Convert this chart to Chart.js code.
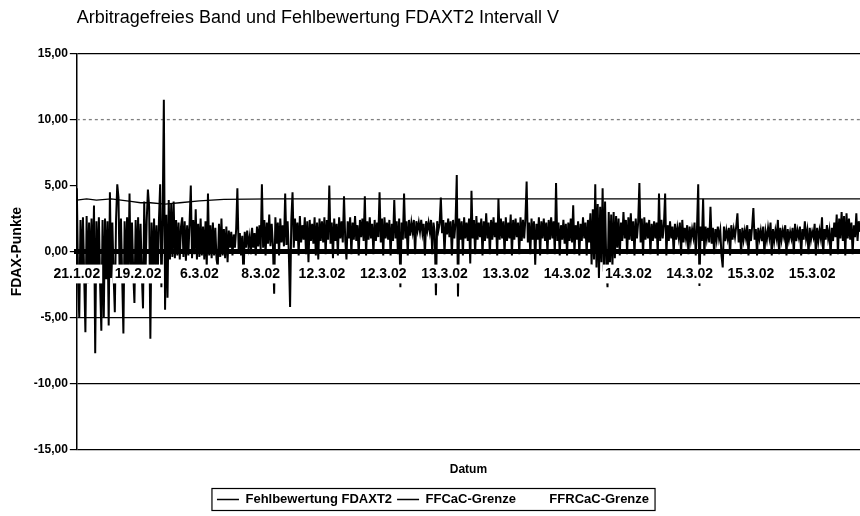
<!DOCTYPE html>
<html>
<head>
<meta charset="utf-8">
<title>Arbitragefreies Band und Fehlbewertung FDAXT2 Intervall V</title>
<script src="https://cdn.jsdelivr.net/npm/chart.js@4"></script>
<style>
  body { margin: 0; background: #fff; }
  #wrap { width: 860px; height: 516px; }
</style>
</head>
<body>
<div id="wrap"><canvas id="chart" width="860" height="516"></canvas></div>
<script>
// Fehlbewertung FDAXT2, one value per position along the time axis
const fehlbewertung = [
  4.8, -2.0, -5.0, 2.4, -2.2, 2.6, -1.8, -6.1, 2.7, -2.4, 2.2, -1.9, 2.5, -2.3, 3.5, -7.7, 2.3, -2.0, 2.6, -2.5,
  -6.0, 2.4, -5.0, 2.5, -2.1, 2.3, -5.6, 4.5, -2.0, 2.2, -1.8, -4.6, 2.4, 5.1, 4.1, -2.2, 2.5, -1.9, -6.2, 2.3,
  -2.0, 2.6, -1.7, 4.4, -2.1, 2.2, -1.5, -3.9, 2.4, -1.8, 2.6, -2.0, 2.1, -1.6, -4.3, 3.8, -1.9, 2.3, 4.7, 3.4,
  -6.6, 2.2, -2.0, 2.5, -1.4, 2.0, -1.8, 2.4, 5.1, -2.7, 2.2, 11.5, -4.4, 2.8, -3.5, 3.9, -0.6, 3.6, -0.4, 3.8,
  -0.5, 2.4, -0.3, 2.2, -0.6, 1.9, 2.6, -0.4, 2.3, -0.7, 2.0, -0.3, 2.2, 5.0, -0.5, 2.4, -0.2, 3.2, -0.6, 2.1,
  -0.4, 2.5, -0.3, 1.9, -0.6, 2.3, -1.2, 4.4, -0.3, 2.0, -0.5, 2.2, -0.3, 1.8, -0.6, -1.2, 2.1, -0.4, 2.5, -0.3,
  1.7, -0.5, 1.9, -0.8, 1.6, 0.3, 1.5, -0.3, 1.3, 0.3, 1.7, 4.8, 0.2, 1.4, -0.3, 1.2, -2.2, 1.5, 0.3, 1.6,
  0.4, 1.1, -0.2, 1.8, 0.3, 1.4, -0.3, 1.9, 0.4, 2.0, 0.2, 5.1, 0.3, 2.4, -0.3, 2.2, 0.6, 2.8, 0.4, 2.1,
  0.5, -3.2, 2.6, 0.6, 2.2, -0.3, 2.5, 0.7, 2.0, 0.4, 4.4, 0.5, 2.3, -0.2, -4.2, 2.4, 4.5, 0.3, 2.5, 0.8,
  2.2, -0.3, 2.7, 0.7, 2.0, 0.9, 2.6, -0.2, 2.3, -0.8, 2.4, 0.8, 2.1, 0.6, 2.6, -0.3, 2.2, -0.6, 2.5, 0.8,
  2.3, 0.7, 2.6, -0.2, 2.4, 0.9, 5.0, 0.6, 2.2, -0.5, 2.5, 0.8, 2.1, -0.3, 2.6, 1.0, 2.3, 0.7, 4.2, 0.9,
  -0.6, 2.3, 1.0, 2.6, -0.2, 2.2, 0.9, 2.7, 0.8, 2.0, -0.3, 2.4, 1.1, 2.5, 0.8, 4.2, -0.3, 2.3, 0.9, 2.6,
  1.0, 2.1, -0.2, 2.4, 0.8, 2.2, 1.1, 4.5, 0.7, 2.5, -0.3, 2.6, 1.0, 2.2, 0.9, 2.4, -0.3, 2.1, 0.8, 3.9,
  1.0, 2.3, -0.2, 2.5, -2.7, 2.2, 0.9, 4.4, 1.0, 2.3, -0.3, 2.4, 1.2, 2.2, 1.5, 2.4, -0.2, 2.3, 1.6, 2.2,
  1.5, 2.4, 1.4, 2.1, -0.3, 2.3, 1.6, 2.2, 1.5, 2.4, -0.2, 2.2, 1.5, -3.3, 2.3, 1.6, 2.1, 4.1, 1.4, 2.4,
  -0.2, 2.2, 1.3, 2.5, 1.1, 2.3, -0.3, 2.4, 1.0, 2.2, 5.8, -3.4, 2.5, 0.9, 2.3, -0.3, 2.6, 1.0, 2.2, 0.8,
  2.5, -0.9, 4.6, 1.0, 2.4, -0.2, 2.7, 0.9, 2.2, 1.1, 2.5, -0.3, 2.3, 0.8, 2.9, 1.0, 2.2, -0.2, 2.4, 0.9,
  2.6, 1.1, 2.2, -0.3, 4.0, 0.9, 2.5, 1.0, 2.3, -0.2, 2.6, 0.8, 2.2, 1.0, 2.8, -0.3, 2.4, 0.9, 2.5, 1.1,
  2.2, -0.2, 2.6, 0.8, 2.4, 1.0, 2.5, 5.3, 0.7, 2.2, -0.2, 2.5, 0.9, 2.3, -1.0, 2.1, 0.9, 2.6, -0.3, 2.3,
  1.0, 2.5, 0.8, 2.2, -0.2, 2.4, 0.9, 2.6, 1.0, 2.3, -0.2, 5.2, 0.8, 2.2, -0.3, 2.0, 0.9, 2.4, 0.6, 2.1,
  -0.3, 2.2, 0.8, 2.5, 0.7, 3.5, -0.2, 2.0, 0.9, 2.3, -0.3, 2.1, 0.8, 2.6, 1.0, 2.2, -0.3, 2.4, 0.7, 2.9,
  -1.0, 3.2, -0.6, 5.1, -1.2, 3.6, -2.0, 3.4, -0.8, 4.8, -1.5, 3.8, -1.0, -2.7, 3.0, -0.8, 2.8, -1.2, 3.0, -0.5,
  2.7, 0.3, 2.5, -0.3, 2.2, 0.8, 3.0, 1.0, 2.4, -0.2, 2.6, 0.9, 2.9, 0.8, 2.3, -0.3, 2.5, 1.0, 2.2, 5.2,
  0.7, 2.5, -0.3, 2.6, 0.9, 2.2, 1.0, 2.4, -0.2, 2.1, 0.8, 2.3, 1.0, 2.2, -0.3, 4.4, 0.8, 2.4, 1.0, 2.0,
  4.4, -0.3, 2.0, 0.8, 2.3, 1.0, 1.9, -0.2, 2.1, 0.9, 1.8, 1.1, 2.2, -0.3, 2.4, 0.7, 1.8, 1.0, 2.0, -0.2,
  1.9, 0.9, 1.7, 1.1, 2.2, -0.3, 1.8, 5.1, -2.6, 1.9, 0.8, 4.0, -0.3, 1.9, 1.0, 1.8, 0.7, 3.4, 0.6, 1.8,
  -0.2, 1.7, 0.9, 1.9, 1.0, 1.6, -0.3, -1.2, 1.9, 0.8, 1.6, 1.0, 1.8, -0.3, 2.0, 0.9, 1.7, 1.1, 1.9, 2.9,
  0.7, 1.7, -0.2, 1.8, 0.9, 1.6, 1.0, 2.0, -0.3, 1.7, 0.8, 1.9, 3.3, 0.9, 1.7, -0.3, 1.8, 1.0, 1.6, 0.8,
  1.9, -0.2, 1.5, 0.9, 1.8, 1.1, 2.2, -0.3, 1.7, 0.8, 1.6, 1.0, 2.4, -0.2, 1.8, 0.9, 1.6, 1.1, 2.0, -0.3,
  1.7, 0.9, 1.5, 1.0, 1.8, -0.2, 2.1, 0.8, 1.6, 1.1, 1.9, -0.3, 1.7, 0.9, 2.3, 1.0, 1.6, -0.2, 1.8, 0.9,
  1.5, 1.1, 2.1, -0.3, 1.8, 0.8, 1.6, 1.0, 2.6, -0.2, 1.7, 0.9, 2.0, 1.0, 1.6, -0.3, 1.8, 0.8, 2.2, 1.1,
  2.8, -0.2, 2.5, 1.0, 3.0, 0.8, 2.7, -0.3, 2.9, 1.0, 2.5, 0.9, 2.2, -0.2, 2.0, 1.1, 2.9, 0.8, 2.3, 1.5
];

// FFCaC-Grenze, read at a few positions (same index scale as above)
const ffcacIndex  = [0, 8, 16, 28, 36, 44, 52, 60, 72, 84, 100, 120, 160, 639];
const ffcacValues = [3.9, 4.0, 3.9, 4.0, 3.9, 3.8, 3.7, 3.7, 3.6, 3.7, 3.85, 3.95, 4.0, 4.0];

// FFRCaC-Grenze
const ffrcacIndex  = [0, 639];
const ffrcacValues = [10, 10];

// date labels, one every 50 positions
const tickLabels = ['21.1.02', '19.2.02', '6.3.02', '8.3.02', '12.3.02', '12.3.02', '13.3.02',
  '13.3.02', '14.3.02', '14.3.02', '14.3.02', '15.3.02', '15.3.02'];
const tickStep = 50;

const seriesNames = ['Fehlbewertung FDAXT2', 'FFCaC-Grenze', 'FFRCaC-Grenze'];
const yTicks = [-15, -10, -5, 0, 5, 10, 15];

function toPoints(xs, ys) {
  return ys.map((y, i) => ({ x: xs[i], y: y }));
}

const fontFamily = '"Liberation Sans", Arial, sans-serif';
Chart.defaults.font.family = fontFamily;
Chart.defaults.color = '#000';

// draws the frame round the legend like the original
const legendFrame = {
  id: 'legendFrame',
  afterDraw(chart) {
    const boxes = chart.legend && chart.legend.legendHitBoxes;
    if (!boxes || !boxes.length) return;
    const ctx = chart.ctx;
    const first = boxes[0];
    const last = boxes[boxes.length - 1];
    const mid = first.top + first.height / 2;
    ctx.save();
    ctx.strokeStyle = '#000';
    ctx.lineWidth = 1.2;
    ctx.strokeRect(first.left - 5, mid - 11, last.left + last.width - first.left + 11, 22);
    ctx.restore();
  }
};

const ctx = document.getElementById('chart');
const chart = new Chart(ctx, {
  type: 'line',
  data: {
    datasets: [
      {
        label: seriesNames[0],
        data: toPoints(fehlbewertung.map((v, i) => i), fehlbewertung),
        borderColor: '#000',
        backgroundColor: '#000',
        borderWidth: 2,
        pointRadius: 0,
        tension: 0
      },
      {
        label: seriesNames[1],
        data: toPoints(ffcacIndex, ffcacValues),
        borderColor: '#000',
        backgroundColor: '#000',
        borderWidth: 1.3,
        pointRadius: 0,
        tension: 0
      },
      {
        label: seriesNames[2],
        data: toPoints(ffrcacIndex, ffrcacValues),
        borderColor: '#808080',
        backgroundColor: 'rgba(0,0,0,0)',
        borderWidth: 1.3,
        borderDash: [3, 3],
        pointRadius: 0,
        tension: 0
      }
    ]
  },
  options: {
    responsive: false,
    animation: false,
    layout: { padding: { left: 6, right: 0, top: 0, bottom: 0 } },
    scales: {
      x: {
        type: 'linear',
        position: { y: 0 },
        min: 0,
        max: fehlbewertung.length - 1,
        grid: { display: true, color: 'rgba(0,0,0,0)', drawTicks: false },
        border: { display: true, color: '#000', width: 5, z: 1 },
        ticks: {
          z: 1,
          stepSize: tickStep,
          autoSkip: false,
          maxRotation: 0,
          padding: 14,
          showLabelBackdrop: true,
          backdropColor: '#fff',
          backdropPadding: { top: 1, bottom: 1, left: 2, right: 2 },
          font: { size: 14, weight: 'bold' },
          callback: (v) => (Number.isInteger(v / tickStep) && tickLabels[v / tickStep]) || ''
        },
        afterFit: (scale) => { scale.paddingLeft = 0; scale.paddingRight = 0; }
      },
      xTitle: {
        type: 'linear',
        axis: 'x',
        position: 'bottom',
        display: true,
        ticks: { display: false },
        grid: { display: false, drawTicks: false },
        border: { display: false },
        title: {
          display: true,
          text: 'Datum',
          font: { size: 12, weight: 'bold' },
          padding: { top: 13, bottom: 11 }
        },
        afterFit: (scale) => { scale.paddingLeft = 0; scale.paddingRight = 0; }
      },
      y: {
        min: -15,
        max: 15,
        afterBuildTicks: (scale) => { scale.ticks = yTicks.map(v => ({ value: v })); },
        ticks: {
          padding: 2,
          font: { size: 12, weight: 'bold' },
          callback: (v) => v.toFixed(2).replace('.', ',')
        },
        grid: {
          tickLength: 7,
          tickColor: '#000',
          lineWidth: 1.2,
          color: (c) => (c.tick && [15, -5, -10, -15].includes(c.tick.value)) ? '#000' : 'rgba(0,0,0,0)'
        },
        border: { color: '#000', width: 1.5 },
        title: {
          display: true,
          text: 'FDAX-Punkte',
          font: { size: 14, weight: 'bold' },
          padding: { top: 3, bottom: 6 }
        }
      }
    },
    plugins: {
      title: {
        display: true,
        text: 'Arbitragefreies Band und Fehlbewertung FDAXT2 Intervall V',
        align: 'start',
        fullSize: false,
        font: { size: 18, weight: 'normal' },
        padding: { top: 7, bottom: 25 }
      },
      legend: {
        position: 'bottom',
        labels: {
          boxWidth: 22,
          boxHeight: 1.5,
          padding: 5,
          font: { size: 13, weight: 'bold' },
          generateLabels: (chart) => chart.data.datasets.map((ds, i) => ({
            text: ds.label,
            fillStyle: i < 2 ? '#000' : 'rgba(0,0,0,0)',
            strokeStyle: 'rgba(0,0,0,0)',
            lineWidth: 0,
            hidden: false,
            datasetIndex: i
          }))
        }
      },
      tooltip: { enabled: false }
    }
  },
  plugins: [legendFrame]
});
</script>
</body>
</html>
